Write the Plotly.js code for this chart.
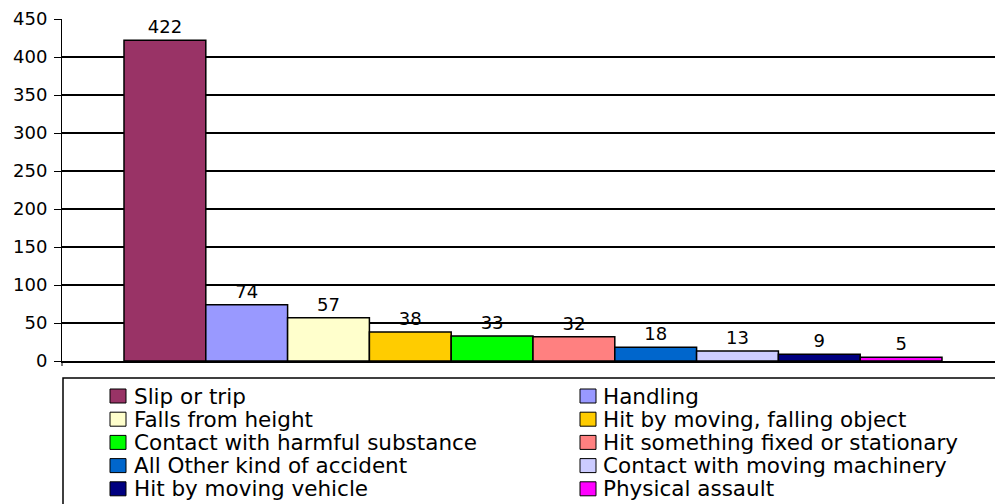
<!DOCTYPE html>
<html>
<head>
<meta charset="utf-8">
<script src="https://cdn.plot.ly/plotly-3.0.1.min.js"></script>
<style>
  html, body { margin: 0; padding: 0; background: #fff; }
  #chart { width: 995px; height: 504px; }
</style>
</head>
<body>
<div id="chart"></div>
<script>
// Accident types, in the order the bars are drawn
const categories = [
  'Slip or trip',
  'Handling',
  'Falls from height',
  'Hit by moving, falling object',
  'Contact with harmful substance',
  'Hit something fixed or stationary',
  'All Other kind of accident',
  'Contact with moving machinery',
  'Hit by moving vehicle',
  'Physical assault'
];

// Number of accidents per type
const values = [422, 74, 57, 38, 33, 32, 18, 13, 9, 5];

// Fill colour of each bar
const colors = [
  '#993366', '#9999FF', '#FFFFCC', '#FFCC00', '#00FF00',
  '#FF8080', '#0066CC', '#CCCCFF', '#000080', '#FF00FF'
];

// Y-axis ticks
const yTicks = [0, 50, 100, 150, 200, 250, 300, 350, 400, 450];

const W = 995, H = 504;
const M = { l: 62, r: 0, t: 19, b: 143 };
const plotW = W - M.l - M.r;
const plotH = H - M.t - M.b;

// pixel -> paper coordinates
const px = x => (x - M.l) / plotW;
const py = y => (H - M.b - y) / plotH;

const FONT = 'DejaVu Sans, Verdana, sans-serif';

const trace = {
  type: 'bar',
  x: categories,
  y: values,
  width: 1,
  marker: { color: colors, line: { color: '#000', width: 1.5 } },
  text: values.map(String),
  textposition: 'outside',
  textfont: { family: FONT, size: 18, color: '#000' },
  cliponaxis: false,
  hoverinfo: 'x+y',
  showlegend: false
};

// Two-column key under the plot, built from the same arrays
const shapes = [];
const annotations = [];
const colX = [{ sw: 110, tx: 133 }, { sw: 580, tx: 602 }];
const rowY0 = 396, rowStep = 23.2;

// frame around the key
shapes.push({
  type: 'rect', xref: 'paper', yref: 'paper', layer: 'above',
  x0: px(63), x1: px(1002), y0: py(378), y1: py(520),
  line: { color: '#000', width: 1.5 }, fillcolor: 'rgba(0,0,0,0)'
});

// short stub of the value axis below zero
shapes.push({
  type: 'line', xref: 'paper', yref: 'paper', layer: 'above',
  x0: 0, x1: 0, y0: 0, y1: py(366),
  line: { color: '#000', width: 1 }
});

categories.forEach((name, i) => {
  const col = colX[i % 2];
  const cy = rowY0 + Math.floor(i / 2) * rowStep;
  shapes.push({
    type: 'rect', xref: 'paper', yref: 'paper', layer: 'above',
    x0: px(col.sw), x1: px(col.sw + 16),
    y0: py(cy + 7), y1: py(cy - 7),
    fillcolor: colors[i], line: { color: '#000', width: 1 }
  });
  annotations.push({
    xref: 'paper', yref: 'paper',
    x: px(col.tx), y: py(cy),
    xanchor: 'left', yanchor: 'middle',
    text: name, showarrow: false, borderpad: 0,
    font: { family: FONT, size: 21.5, color: '#000' }
  });
});

// bar slots are one unit wide; range puts them between x=124 and x=942
const slot = (942 - 124) / categories.length;
const xMin = -0.5 - (124 - M.l) / slot;
const xMax = xMin + plotW / slot;

const layout = {
  width: W, height: H,
  margin: M,
  paper_bgcolor: '#fff',
  plot_bgcolor: '#fff',
  font: { family: FONT, size: 18, color: '#000' },
  bargap: 0,
  xaxis: {
    type: 'category',
    range: [xMin, xMax],
    showticklabels: false,
    ticks: '',
    showgrid: false,
    zeroline: false,
    showline: true, linecolor: '#000', linewidth: 1.5
  },
  yaxis: {
    range: [0, 450],
    tickvals: yTicks,
    ticktext: yTicks.map(String),
    ticks: 'outside', ticklen: 7, tickcolor: '#000', tickwidth: 1,
    ticklabelstandoff: 3,
    tickfont: { family: FONT, size: 18, color: '#000' },
    showgrid: true, gridcolor: '#000', gridwidth: 1.5,
    zeroline: false,
    showline: true, linecolor: '#000', linewidth: 1
  },
  shapes: shapes,
  annotations: annotations
};

Plotly.newPlot('chart', [trace], layout, { displayModeBar: false, staticPlot: true });
</script>
</body>
</html>
